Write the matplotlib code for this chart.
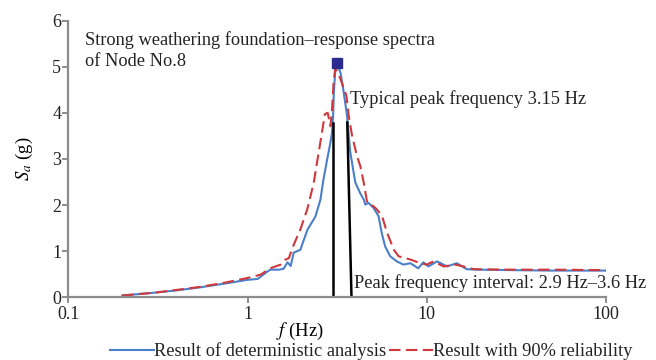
import matplotlib
matplotlib.use("Agg")
import matplotlib.pyplot as plt
from matplotlib.ticker import FixedLocator, FixedFormatter

plt.rcParams['font.family'] = ['Liberation Serif', 'DejaVu Serif']
plt.rcParams['mathtext.fontset'] = 'stix'

# deterministic analysis (blue solid)
det_f = [0.20, 0.30, 0.40, 0.55, 0.75, 1.0, 1.14, 1.29, 1.34, 1.50, 1.59, 1.67, 1.74, 1.81,
         1.97, 2.16, 2.39, 2.55, 2.65, 2.78, 2.90, 2.96, 3.00, 3.03, 3.09, 3.15, 3.30, 3.44,
         3.59, 3.74, 3.99, 4.26, 4.45, 4.54, 4.72, 5.04, 5.38, 5.60, 5.86, 6.25, 6.80, 7.40,
         8.10, 8.95, 9.57, 10.2, 11.4, 12.95, 14.7, 16.7, 19.8, 30.0, 50.0, 100.0]
det_sa = [0.04, 0.10, 0.15, 0.22, 0.30, 0.38, 0.40, 0.56, 0.60, 0.60, 0.62, 0.76, 0.68, 0.97,
          1.03, 1.47, 1.75, 2.12, 2.55, 2.99, 3.36, 3.57, 3.93, 4.44, 4.95, 5.07, 4.87, 4.44,
          3.93, 3.15, 2.49, 2.25, 2.12, 2.01, 2.05, 1.94, 1.76, 1.40, 1.10, 0.89, 0.78, 0.71,
          0.74, 0.63, 0.76, 0.67, 0.78, 0.67, 0.74, 0.61, 0.60, 0.59, 0.58, 0.58]

# 90% reliability (red dashed)
rel_f = [0.20, 0.30, 0.40, 0.55, 0.75, 1.0, 1.18, 1.34, 1.53, 1.63, 1.70, 1.81, 1.97, 2.15,
         2.34, 2.44, 2.60, 2.70, 2.80, 2.90, 2.96, 3.02, 3.08, 3.15, 3.30, 3.56, 3.67, 3.83,
         4.08, 4.26, 4.45, 4.65, 5.06, 5.28, 5.63, 6.00, 6.55, 6.96, 8.10, 9.20, 10.0, 10.9,
         12.4, 14.4, 16.0, 18.3, 30.0, 50.0, 100.0]
rel_sa = [0.04, 0.10, 0.16, 0.23, 0.32, 0.42, 0.49, 0.63, 0.71, 0.82, 0.85, 1.14, 1.47, 1.90,
          2.48, 2.92, 3.57, 3.97, 4.00, 3.71, 4.08, 4.66, 4.95, 4.91, 4.73, 4.37, 3.93, 3.50,
          3.06, 2.84, 2.48, 2.05, 1.97, 1.90, 1.76, 1.40, 1.03, 0.89, 0.82, 0.74, 0.71, 0.78,
          0.67, 0.71, 0.67, 0.61, 0.60, 0.60, 0.59]

peak_f, peak_sa = 3.15, 5.07
interval_left = ([3.0, 3.0], [0, 3.77])
interval_right = ([3.8, 3.6], [0, 3.79])

x_ticks = [0.1, 1, 10, 100]
x_labels = ['0.1', '1', '10', '100']
y_ticks = [0, 1, 2, 3, 4, 5, 6]

FS = 13.2


def main():
    fig = plt.figure(figsize=(6.56, 3.6), dpi=100)
    ax = fig.add_axes([0.104, 0.174, 0.820, 0.769])

    ax.plot(det_f, det_sa, color='#4a80c9', lw=1.5, label='Result of deterministic analysis')
    ax.plot(rel_f, rel_sa, color='#d0383c', lw=1.5, dashes=(5.5, 2.6),
            label='Result with 90% reliability')
    ax.plot(*interval_left, color='black', lw=1.8)
    ax.plot(*interval_right, color='black', lw=1.8)
    ax.plot([peak_f], [peak_sa], marker='s', ms=7, color='#2b2b8f', ls='none')

    ax.set_xscale('log')
    ax.set_xlim(0.1, 100)
    ax.set_ylim(0, 6)
    ax.xaxis.set_major_locator(FixedLocator(x_ticks))
    ax.xaxis.set_major_formatter(FixedFormatter(x_labels))
    ax.xaxis.set_minor_locator(FixedLocator([]))
    ax.set_yticks(y_ticks)

    for s in ['top', 'right']:
        ax.spines[s].set_visible(False)
    for s in ['left', 'bottom']:
        ax.spines[s].set_color('#8c8c8c')
        ax.spines[s].set_linewidth(1.6)
    ax.tick_params(colors='#8c8c8c', labelcolor='#222222', labelsize=13,
                   length=4, width=1.4, pad=1)
    ax.tick_params(axis='x', pad=2)

    ax.text(0.1236, 5.35, 'Strong weathering foundation\u2013response spectra\nof Node No.8',
            fontsize=FS, va='center', linespacing=1.25, color='#222222')
    ax.text(3.75, 4.29, 'Typical peak frequency 3.15 Hz', fontsize=FS, va='center',
            color='#222222')
    ax.text(3.9, 0.32, 'Peak frequency interval: 2.9 Hz\u20133.6 Hz', fontsize=FS,
            va='center', clip_on=False, color='#222222')

    ax.set_ylabel('$S_a$ (g)', fontsize=13.5, labelpad=12)
    ax.set_xlabel('$f$ (Hz)', fontsize=13.5)
    ax.xaxis.set_label_coords(0.431, -0.085)

    ax.legend(loc='upper center', bbox_to_anchor=(0.564, -0.163), ncol=2, frameon=False,
              fontsize=FS, handlelength=2.4, handletextpad=0.0, columnspacing=0.15,
              borderaxespad=0, borderpad=0, labelcolor='#222222')

    fig.savefig('out.png', dpi=100)


if __name__ == "__main__":
    main()
